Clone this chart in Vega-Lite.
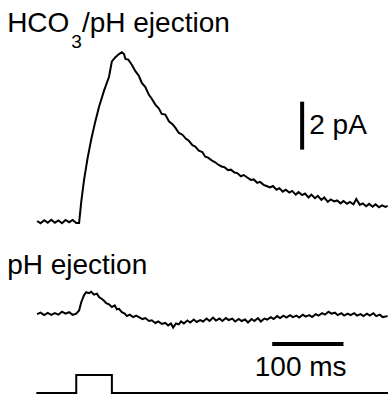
{
  "$schema": "https://vega.github.io/schema/vega-lite/v6.json",
  "width": 392,
  "height": 397,
  "padding": 0,
  "autosize": {"type": "fit", "contains": "padding"},
  "background": "white",
  "config": {"view": {"stroke": null}, "axis": {"disable": true}, "font": "Liberation Sans"},
  "datasets": {
    "hco3": [
      {"t": -55, "i": 0.02}, {"t": -50, "i": -0.07}, {"t": -45, "i": 0.05}, {"t": -40, "i": -0.05}, {"t": -35, "i": 0.07}, {"t": -30, "i": -0.05},
      {"t": -25, "i": 0.04}, {"t": -20, "i": -0.07}, {"t": -15, "i": 0.06}, {"t": -10, "i": -0.03}, {"t": -5, "i": 0.06}, {"t": 0, "i": -0.06},
      {"t": 4, "i": -0.06}, {"t": 7, "i": 0.8}, {"t": 11, "i": 1.71}, {"t": 16, "i": 2.6}, {"t": 21, "i": 3.35}, {"t": 26, "i": 4.0},
      {"t": 32, "i": 4.69}, {"t": 39, "i": 5.35}, {"t": 46, "i": 5.92}, {"t": 50, "i": 6.55}, {"t": 55, "i": 6.72}, {"t": 60, "i": 6.85},
      {"t": 64, "i": 6.92}, {"t": 67, "i": 6.85}, {"t": 69, "i": 6.65}, {"t": 73, "i": 6.62}, {"t": 78, "i": 6.41}, {"t": 83, "i": 6.15},
      {"t": 88, "i": 5.95}, {"t": 92, "i": 5.67}, {"t": 97, "i": 5.5}, {"t": 102, "i": 5.18}, {"t": 106, "i": 5.02}, {"t": 111, "i": 4.78},
      {"t": 116, "i": 4.62}, {"t": 120, "i": 4.4}, {"t": 125, "i": 4.37}, {"t": 130, "i": 4.1}, {"t": 135, "i": 3.98}, {"t": 139, "i": 3.84},
      {"t": 144, "i": 3.62}, {"t": 149, "i": 3.55}, {"t": 154, "i": 3.38}, {"t": 158, "i": 3.3}, {"t": 163, "i": 3.12}, {"t": 167, "i": 3.06},
      {"t": 172, "i": 2.9}, {"t": 177, "i": 2.84}, {"t": 181, "i": 2.65}, {"t": 185, "i": 2.61}, {"t": 190, "i": 2.5}, {"t": 195, "i": 2.42},
      {"t": 199, "i": 2.33}, {"t": 204, "i": 2.25}, {"t": 208, "i": 2.22}, {"t": 213, "i": 2.1}, {"t": 217, "i": 2.12}, {"t": 222, "i": 2.0},
      {"t": 226, "i": 1.98}, {"t": 231, "i": 1.85}, {"t": 235, "i": 1.9}, {"t": 240, "i": 1.8}, {"t": 245, "i": 1.7}, {"t": 249, "i": 1.72},
      {"t": 254, "i": 1.58}, {"t": 258, "i": 1.62}, {"t": 263, "i": 1.5}, {"t": 267, "i": 1.45}, {"t": 272, "i": 1.39}, {"t": 276, "i": 1.45},
      {"t": 281, "i": 1.3}, {"t": 285, "i": 1.36}, {"t": 290, "i": 1.22}, {"t": 294, "i": 1.3}, {"t": 299, "i": 1.18}, {"t": 303, "i": 1.25},
      {"t": 308, "i": 1.1}, {"t": 312, "i": 1.2}, {"t": 317, "i": 1.08}, {"t": 321, "i": 1.14}, {"t": 326, "i": 0.98}, {"t": 330, "i": 1.1},
      {"t": 335, "i": 0.95}, {"t": 339, "i": 1.05}, {"t": 344, "i": 0.88}, {"t": 348, "i": 0.98}, {"t": 353, "i": 0.8}, {"t": 357, "i": 0.9},
      {"t": 362, "i": 0.82}, {"t": 366, "i": 0.86}, {"t": 371, "i": 0.74}, {"t": 375, "i": 0.84}, {"t": 380, "i": 0.72}, {"t": 384, "i": 0.8},
      {"t": 389, "i": 0.7}, {"t": 393, "i": 0.92}, {"t": 398, "i": 0.68}, {"t": 402, "i": 0.74}, {"t": 407, "i": 0.62}, {"t": 411, "i": 0.72},
      {"t": 416, "i": 0.6}, {"t": 420, "i": 0.7}, {"t": 425, "i": 0.58}, {"t": 429, "i": 0.66}, {"t": 434, "i": 0.6}, {"t": 437, "i": 0.64}
    ],
    "ph": [
      {"t": -55, "i": 0.0}, {"t": -50, "i": 0.06}, {"t": -45, "i": -0.04}, {"t": -40, "i": 0.05}, {"t": -35, "i": -0.03}, {"t": -30, "i": 0.04},
      {"t": -25, "i": -0.02}, {"t": -20, "i": 0.1}, {"t": -15, "i": 0.02}, {"t": -10, "i": 0.08}, {"t": -5, "i": -0.03}, {"t": 0, "i": 0.02},
      {"t": 4, "i": 0.15}, {"t": 7, "i": 0.49}, {"t": 11, "i": 0.78}, {"t": 14, "i": 0.9}, {"t": 18, "i": 0.86}, {"t": 21, "i": 0.92},
      {"t": 25, "i": 0.8}, {"t": 29, "i": 0.84}, {"t": 32, "i": 0.7}, {"t": 36, "i": 0.62}, {"t": 39, "i": 0.55}, {"t": 42, "i": 0.45},
      {"t": 46, "i": 0.4}, {"t": 50, "i": 0.29}, {"t": 54, "i": 0.36}, {"t": 57, "i": 0.2}, {"t": 60, "i": 0.22}, {"t": 64, "i": 0.08},
      {"t": 68, "i": 0.02}, {"t": 71, "i": -0.08}, {"t": 75, "i": -0.02}, {"t": 80, "i": -0.12}, {"t": 84, "i": -0.06}, {"t": 88, "i": -0.12},
      {"t": 93, "i": -0.2}, {"t": 97, "i": -0.16}, {"t": 102, "i": -0.28}, {"t": 106, "i": -0.25}, {"t": 111, "i": -0.36}, {"t": 115, "i": -0.3},
      {"t": 120, "i": -0.4}, {"t": 125, "i": -0.36}, {"t": 129, "i": -0.46}, {"t": 133, "i": -0.38}, {"t": 136, "i": -0.55}, {"t": 140, "i": -0.38},
      {"t": 144, "i": -0.42}, {"t": 147, "i": -0.3}, {"t": 151, "i": -0.38}, {"t": 156, "i": -0.26}, {"t": 160, "i": -0.34}, {"t": 165, "i": -0.22},
      {"t": 169, "i": -0.32}, {"t": 174, "i": -0.24}, {"t": 178, "i": -0.3}, {"t": 183, "i": -0.18}, {"t": 187, "i": -0.28}, {"t": 192, "i": -0.14},
      {"t": 196, "i": -0.26}, {"t": 201, "i": -0.18}, {"t": 205, "i": -0.28}, {"t": 210, "i": -0.16}, {"t": 214, "i": -0.24}, {"t": 219, "i": -0.18},
      {"t": 223, "i": -0.3}, {"t": 228, "i": -0.2}, {"t": 232, "i": -0.28}, {"t": 237, "i": -0.22}, {"t": 241, "i": -0.34}, {"t": 246, "i": -0.2},
      {"t": 250, "i": -0.28}, {"t": 255, "i": -0.16}, {"t": 259, "i": -0.3}, {"t": 264, "i": -0.18}, {"t": 268, "i": -0.22}, {"t": 273, "i": -0.12},
      {"t": 277, "i": -0.2}, {"t": 282, "i": -0.08}, {"t": 286, "i": -0.16}, {"t": 291, "i": -0.06}, {"t": 295, "i": -0.14}, {"t": 300, "i": -0.04},
      {"t": 304, "i": -0.12}, {"t": 309, "i": -0.06}, {"t": 313, "i": -0.14}, {"t": 318, "i": -0.02}, {"t": 322, "i": -0.1}, {"t": 327, "i": -0.04},
      {"t": 331, "i": -0.12}, {"t": 336, "i": 0.0}, {"t": 340, "i": -0.06}, {"t": 345, "i": 0.04}, {"t": 349, "i": -0.02}, {"t": 354, "i": 0.1},
      {"t": 358, "i": 0.02}, {"t": 363, "i": 0.06}, {"t": 367, "i": -0.04}, {"t": 372, "i": 0.04}, {"t": 376, "i": -0.06}, {"t": 381, "i": 0.02},
      {"t": 385, "i": -0.04}, {"t": 390, "i": 0.04}, {"t": 394, "i": -0.06}, {"t": 399, "i": 0.0}, {"t": 403, "i": -0.08}, {"t": 408, "i": 0.02},
      {"t": 412, "i": -0.06}, {"t": 417, "i": 0.04}, {"t": 421, "i": -0.08}, {"t": 426, "i": -0.02}, {"t": 430, "i": -0.12}, {"t": 437, "i": -0.08}
    ],
    "stim": [
      {"t": -56, "v": 0}, {"t": 0, "v": 1}, {"t": 50, "v": 0}, {"t": 437.5, "v": 0}
    ],
    "scalebars": [
      {"bar": "current", "t": 317, "t2": 317, "a": 2.94, "b": 4.9},
      {"bar": "time", "t": 275, "t2": 375, "a": -1.22, "b": -1.22}
    ],
    "labels": [
      {"panel": "top", "part": "main", "text": "HCO", "t": -97, "i": 7.76},
      {"panel": "top", "part": "sub", "text": "3", "t": -7, "i": 7.1},
      {"panel": "top", "part": "rest", "text": "/pH ejection", "t": 8, "i": 7.76},
      {"panel": "top", "part": "scale", "text": "2 pA", "t": 327, "i": 3.59},
      {"panel": "bottom", "part": "main", "text": "pH ejection", "t": -97, "i": 1.63},
      {"panel": "bottom", "part": "scale", "text": "100 ms", "t": 315, "i": -2.53}
    ]
  },
  "resolve": {"scale": {"y": "independent"}},
  "layer": [
    {
      "data": {"name": "hco3"},
      "mark": {"type": "line", "color": "black", "strokeWidth": 2},
      "encoding": {
        "x": {"field": "t", "type": "quantitative", "scale": {"domain": [-107, 437.5], "nice": false, "zero": false}},
        "y": {"field": "i", "type": "quantitative", "scale": {"domain": [-7.14, 9.06], "nice": false, "zero": false}}
      }
    },
    {
      "data": {"name": "ph"},
      "mark": {"type": "line", "color": "black", "strokeWidth": 2},
      "encoding": {
        "x": {"field": "t", "type": "quantitative", "scale": {"domain": [-107, 437.5], "nice": false, "zero": false}},
        "y": {"field": "i", "type": "quantitative", "scale": {"domain": [-3.35, 12.86], "nice": false, "zero": false}}
      }
    },
    {
      "data": {"name": "stim"},
      "mark": {"type": "line", "color": "black", "strokeWidth": 2, "interpolate": "step-after"},
      "encoding": {
        "x": {"field": "t", "type": "quantitative", "scale": {"domain": [-107, 437.5], "nice": false, "zero": false}},
        "y": {"field": "v", "type": "quantitative", "scale": {"domain": [-0.167, 21.89], "nice": false, "zero": false}}
      }
    },
    {
      "data": {"name": "scalebars"},
      "transform": [{"filter": "datum.bar === 'current'"}],
      "mark": {"type": "rule", "color": "black", "strokeWidth": 4},
      "encoding": {
        "x": {"field": "t", "type": "quantitative", "scale": {"domain": [-107, 437.5], "nice": false, "zero": false}},
        "y": {"field": "a", "type": "quantitative", "scale": {"domain": [-7.14, 9.06], "nice": false, "zero": false}},
        "y2": {"field": "b"}
      }
    },
    {
      "data": {"name": "scalebars"},
      "transform": [{"filter": "datum.bar === 'time'"}],
      "mark": {"type": "rule", "color": "black", "strokeWidth": 4},
      "encoding": {
        "x": {"field": "t", "type": "quantitative", "scale": {"domain": [-107, 437.5], "nice": false, "zero": false}},
        "x2": {"field": "t2"},
        "y": {"field": "a", "type": "quantitative", "scale": {"domain": [-3.35, 12.86], "nice": false, "zero": false}}
      }
    },
    {
      "data": {"name": "labels"},
      "transform": [{"filter": "datum.panel === 'top' && (datum.part === 'main' || datum.part === 'rest')"}],
      "mark": {"type": "text", "align": "left", "baseline": "alphabetic", "fontSize": 28, "color": "black"},
      "encoding": {
        "x": {"field": "t", "type": "quantitative", "scale": {"domain": [-107, 437.5], "nice": false, "zero": false}},
        "y": {"field": "i", "type": "quantitative", "scale": {"domain": [-7.14, 9.06], "nice": false, "zero": false}},
        "text": {"field": "text"}
      }
    },
    {
      "data": {"name": "labels"},
      "transform": [{"filter": "datum.panel === 'top' && datum.part === 'sub'"}],
      "mark": {"type": "text", "align": "left", "baseline": "alphabetic", "fontSize": 19, "color": "black"},
      "encoding": {
        "x": {"field": "t", "type": "quantitative", "scale": {"domain": [-107, 437.5], "nice": false, "zero": false}},
        "y": {"field": "i", "type": "quantitative", "scale": {"domain": [-7.14, 9.06], "nice": false, "zero": false}},
        "text": {"field": "text"}
      }
    },
    {
      "data": {"name": "labels"},
      "transform": [{"filter": "datum.panel === 'top' && datum.part === 'scale'"}],
      "mark": {"type": "text", "align": "left", "baseline": "alphabetic", "fontSize": 28, "color": "black"},
      "encoding": {
        "x": {"field": "t", "type": "quantitative", "scale": {"domain": [-107, 437.5], "nice": false, "zero": false}},
        "y": {"field": "i", "type": "quantitative", "scale": {"domain": [-7.14, 9.06], "nice": false, "zero": false}},
        "text": {"field": "text"}
      }
    },
    {
      "data": {"name": "labels"},
      "transform": [{"filter": "datum.panel === 'bottom' && datum.part === 'main'"}],
      "mark": {"type": "text", "align": "left", "baseline": "alphabetic", "fontSize": 28, "color": "black"},
      "encoding": {
        "x": {"field": "t", "type": "quantitative", "scale": {"domain": [-107, 437.5], "nice": false, "zero": false}},
        "y": {"field": "i", "type": "quantitative", "scale": {"domain": [-3.35, 12.86], "nice": false, "zero": false}},
        "text": {"field": "text"}
      }
    },
    {
      "data": {"name": "labels"},
      "transform": [{"filter": "datum.panel === 'bottom' && datum.part === 'scale'"}],
      "mark": {"type": "text", "align": "center", "baseline": "alphabetic", "fontSize": 28, "color": "black"},
      "encoding": {
        "x": {"field": "t", "type": "quantitative", "scale": {"domain": [-107, 437.5], "nice": false, "zero": false}},
        "y": {"field": "i", "type": "quantitative", "scale": {"domain": [-3.35, 12.86], "nice": false, "zero": false}},
        "text": {"field": "text"}
      }
    }
  ]
}
